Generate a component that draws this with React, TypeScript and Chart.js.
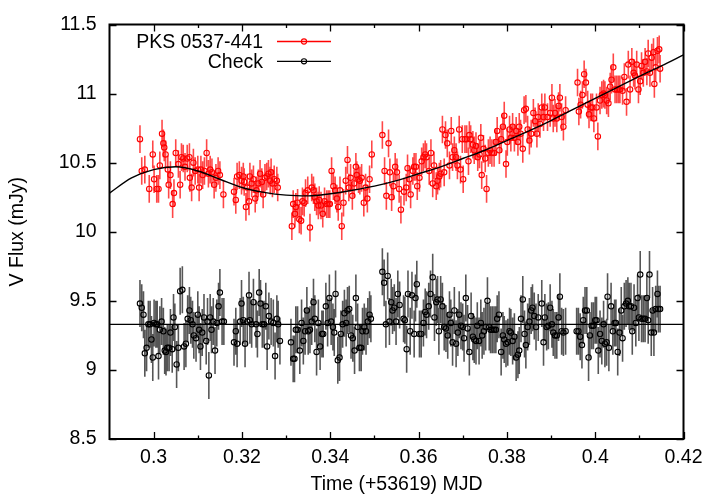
import React, { useEffect, useRef } from "react";
import { Chart, registerables } from "chart.js";

Chart.register(...registerables);

const FONT = '"Liberation Sans", Arial, Helvetica, sans-serif';
const FONT_SIZE = 19.5;

// PKS 0537-441 (V flux, mJy)
const redTime = [
  0.2969, 0.2973, 0.2980, 0.2990, 0.2998, 0.3001, 0.3007, 0.3011, 0.3014, 0.3019, 0.3022, 0.3024, 0.3027, 0.3032, 0.3034,
  0.3038, 0.3043, 0.3046, 0.3050, 0.3056, 0.3060, 0.3063, 0.3067, 0.3071, 0.3076, 0.3081, 0.3082, 0.3086, 0.3090, 0.3094,
  0.3100, 0.3103, 0.3107, 0.3111, 0.3115, 0.3120, 0.3124, 0.3128, 0.3132, 0.3137, 0.3141, 0.3146, 0.3150, 0.3158,
  0.3182, 0.3186, 0.3189, 0.3194, 0.3199, 0.3203, 0.3205, 0.3209, 0.3212, 0.3216, 0.3218, 0.3222, 0.3226, 0.3230, 0.3233,
  0.3237, 0.3241, 0.3245, 0.3248, 0.3252, 0.3256, 0.3260, 0.3264, 0.3266, 0.3269, 0.3273, 0.3279, 0.3281,
  0.3313, 0.3316, 0.3320, 0.3322, 0.3326, 0.3330, 0.3334, 0.3337, 0.3341, 0.3344, 0.3349, 0.3354, 0.3358, 0.3362, 0.3365,
  0.3369, 0.3373, 0.3375, 0.3379, 0.3383, 0.3387, 0.3392, 0.3396, 0.3399, 0.3403, 0.3407, 0.3411, 0.3415, 0.3418, 0.3422,
  0.3426, 0.3430, 0.3435, 0.3439, 0.3442, 0.3446, 0.3450, 0.3454, 0.3458, 0.3460, 0.3464, 0.3467, 0.3471, 0.3476, 0.3480,
  0.3484, 0.3489, 0.3494,
  0.3518, 0.3523, 0.3527, 0.3532, 0.3535, 0.3539, 0.3543, 0.3547, 0.3551, 0.3556, 0.3560,
  0.3567, 0.3572, 0.3575, 0.3579, 0.3582, 0.3587, 0.3590, 0.3594, 0.3597, 0.3602,
  0.3607, 0.3611, 0.3615, 0.3618, 0.3624, 0.3628, 0.3632, 0.3635, 0.3640, 0.3643,
  0.3647, 0.3650, 0.3654, 0.3658, 0.3661, 0.3665, 0.3670, 0.3674, 0.3677, 0.3681,
  0.3685, 0.3688, 0.3692, 0.3695, 0.3699, 0.3701, 0.3705, 0.3709, 0.3713, 0.3715,
  0.3718, 0.3723, 0.3726, 0.3730, 0.3734, 0.3738, 0.3741, 0.3743, 0.3747, 0.3751,
  0.3754, 0.3758, 0.3762, 0.3766, 0.3771, 0.3775, 0.3778, 0.3783, 0.3787, 0.3791,
  0.3794, 0.3798, 0.3801, 0.3806, 0.3809, 0.3813, 0.3817, 0.3821, 0.3825, 0.3828,
  0.3831, 0.3836, 0.3839, 0.3843, 0.3847, 0.3851, 0.3855, 0.3860, 0.3864, 0.3868,
  0.3871, 0.3875,
  0.3879, 0.3883, 0.3886, 0.3892, 0.3898, 0.3902, 0.3905, 0.3909, 0.3913, 0.3917, 0.3920, 0.3924, 0.3928, 0.3933,
  0.3960, 0.3963, 0.3967, 0.3971, 0.3975, 0.3979, 0.3983, 0.3986, 0.3990, 0.3994, 0.3997, 0.4003, 0.4006, 0.4011, 0.4015,
  0.4019, 0.4022, 0.4026, 0.4030, 0.4034, 0.4037, 0.4041, 0.4045, 0.4049, 0.4053, 0.4056, 0.4062, 0.4066, 0.4071, 0.4075,
  0.4079, 0.4083, 0.4087, 0.4090, 0.4094, 0.4098, 0.4102, 0.4105, 0.4109, 0.4113, 0.4117, 0.4120, 0.4124, 0.4128, 0.4132,
  0.4134, 0.4137, 0.4141, 0.4145, 0.4147,
];
const redFlux = [
  10.67, 10.44, 10.45, 10.31, 10.56, 10.38, 10.31, 10.31, 10.48, 10.71, 10.64, 10.61, 10.56, 10.45, 10.34,
  10.41, 10.20, 10.28, 10.57, 10.49, 10.34, 10.54, 10.53, 10.47, 10.53, 10.54, 10.39, 10.32, 10.50, 10.44,
  10.45, 10.32, 10.45, 10.41, 10.44, 10.57, 10.42, 10.45, 10.43, 10.34, 10.39, 10.44, 10.41, 10.27,
  10.29, 10.23, 10.40, 10.41, 10.37, 10.40, 10.36, 10.18, 10.32, 10.22, 10.40, 10.35, 10.38, 10.24, 10.30,
  10.35, 10.42, 10.36, 10.27, 10.39, 10.40, 10.42, 10.37, 10.43, 10.35, 10.38, 10.37, 10.32,
  10.04, 10.20, 10.13, 10.18, 10.21, 10.09, 10.08, 10.22, 10.21, 10.28, 10.30, 10.03, 10.32, 10.30, 10.25,
  10.22, 10.19, 10.23, 10.19, 10.13, 10.22, 10.20, 10.20, 10.20, 10.44, 10.33, 10.30, 10.24, 10.18, 10.30,
  10.04, 10.21, 10.37, 10.52, 10.32, 10.39, 10.26, 10.35, 10.47, 10.41, 10.38, 10.37, 10.39, 10.21, 10.32,
  10.24, 10.38, 10.56,
  10.70, 10.44, 10.26, 10.64, 10.43, 10.25, 10.33, 10.47, 10.43, 10.31, 10.16,
  10.29, 10.32, 10.46, 10.38, 10.27, 10.44, 10.47, 10.47, 10.33, 10.39,
  10.51, 10.54, 10.56, 10.54, 10.44, 10.57, 10.35, 10.48, 10.33, 10.37,
  10.40, 10.42, 10.74, 10.43, 10.70, 10.64, 10.48, 10.73, 10.54, 10.59,
  10.54, 10.48, 10.74, 10.45, 10.67, 10.38, 10.67, 10.67, 10.51, 10.70,
  10.67, 10.63, 10.59, 10.62, 10.54, 10.56, 10.68, 10.41, 10.60, 10.53,
  10.31, 10.57, 10.59, 10.57, 10.57, 10.65, 10.73, 10.59, 10.67, 10.76,
  10.84, 10.49, 10.65, 10.74, 10.68, 10.76, 10.68, 10.73, 10.65, 10.76,
  10.71, 10.60, 10.88, 10.89, 10.74, 10.66, 10.71, 10.86, 10.80, 10.71,
  10.83, 10.78,
  10.90, 10.83, 10.90, 10.83, 10.86, 10.97, 10.82, 10.86, 10.82, 10.91, 10.97, 10.83, 10.76, 10.88,
  11.08, 10.87, 10.92, 10.99, 11.14, 11.08, 10.92, 10.85, 10.90, 10.90, 10.82, 10.90, 10.69, 10.95, 10.99,
  11.00, 10.99, 10.95, 10.93, 11.05, 11.10, 11.19, 11.03, 11.03, 11.03, 11.03, 11.02, 11.12, 10.94, 11.21,
  11.03, 11.23, 11.15, 11.13, 11.21, 11.03, 11.09, 11.20, 11.15, 11.23, 11.16, 11.29, 11.15, 11.26, 11.30,
  11.07, 11.19, 11.31, 11.32, 11.18,
];

// Check star (V flux, mJy)
const checkTime = [
  0.2969, 0.2973, 0.2977, 0.2980, 0.2984, 0.2988, 0.2992, 0.2995, 0.2998, 0.3001, 0.3005, 0.3008, 0.3011, 0.3014, 0.3018,
  0.3022, 0.3025, 0.3028, 0.3031, 0.3035, 0.3038, 0.3042, 0.3045, 0.3048, 0.3052, 0.3056, 0.3060, 0.3065, 0.3069, 0.3073,
  0.3077, 0.3081, 0.3084, 0.3088, 0.3091, 0.3096, 0.3100, 0.3103, 0.3106, 0.3110, 0.3114, 0.3119, 0.3122, 0.3125, 0.3128,
  0.3131, 0.3135, 0.3139, 0.3143, 0.3147, 0.3150, 0.3155, 0.3159,
  0.3182, 0.3186, 0.3189, 0.3196, 0.3199, 0.3203, 0.3207, 0.3212, 0.3216, 0.3218, 0.3222, 0.3226, 0.3232, 0.3235, 0.3239,
  0.3242, 0.3246, 0.3250, 0.3254, 0.3257, 0.3261, 0.3266, 0.3271, 0.3275, 0.3279, 0.3282, 0.3286,
  0.3311, 0.3316, 0.3319, 0.3322, 0.3326, 0.3331, 0.3335, 0.3339, 0.3343, 0.3347, 0.3350, 0.3354, 0.3358, 0.3362, 0.3365,
  0.3369, 0.3373, 0.3377, 0.3381, 0.3384, 0.3390, 0.3394, 0.3398, 0.3402, 0.3406, 0.3409, 0.3412, 0.3417, 0.3421, 0.3424,
  0.3428, 0.3432, 0.3436, 0.3439, 0.3443, 0.3447, 0.3451, 0.3455, 0.3458, 0.3462, 0.3466, 0.3470, 0.3473, 0.3477, 0.3481,
  0.3485, 0.3489, 0.3492,
  0.3518, 0.3522, 0.3526, 0.3530, 0.3534, 0.3538, 0.3541, 0.3545, 0.3549, 0.3553, 0.3557,
  0.3566, 0.3569, 0.3573, 0.3576, 0.3581, 0.3585, 0.3590, 0.3593, 0.3596, 0.3602,
  0.3606, 0.3611, 0.3615, 0.3618, 0.3623, 0.3627, 0.3632, 0.3636, 0.3640, 0.3643,
  0.3646, 0.3650, 0.3654, 0.3658, 0.3662, 0.3666, 0.3670, 0.3673, 0.3677, 0.3681,
  0.3685, 0.3689, 0.3692, 0.3696, 0.3700, 0.3703, 0.3707, 0.3711, 0.3715, 0.3719,
  0.3723, 0.3726, 0.3730, 0.3733, 0.3737, 0.3741, 0.3744, 0.3748, 0.3752, 0.3756,
  0.3760, 0.3763, 0.3767, 0.3771, 0.3775, 0.3778, 0.3782, 0.3787, 0.3791, 0.3794,
  0.3798, 0.3802, 0.3806, 0.3809, 0.3813, 0.3817, 0.3821, 0.3825, 0.3828, 0.3832,
  0.3836, 0.3840, 0.3843, 0.3847, 0.3851, 0.3855, 0.3858, 0.3862, 0.3866, 0.3871,
  0.3879, 0.3883, 0.3886, 0.3890, 0.3894, 0.3898, 0.3902, 0.3905, 0.3909, 0.3913, 0.3917, 0.3920, 0.3924, 0.3928, 0.3933,
  0.3958, 0.3962, 0.3966, 0.3970, 0.3973, 0.3977, 0.3981, 0.3985, 0.3988, 0.3992, 0.3996, 0.4000, 0.4003, 0.4007, 0.4011,
  0.4015, 0.4019, 0.4022, 0.4026, 0.4028, 0.4031, 0.4036, 0.4040, 0.4044, 0.4047, 0.4051, 0.4055, 0.4059, 0.4062, 0.4066,
  0.4070, 0.4074, 0.4077, 0.4081, 0.4084, 0.4088, 0.4092, 0.4096, 0.4099, 0.4102, 0.4105, 0.4109, 0.4113, 0.4117, 0.4120,
  0.4123, 0.4127, 0.4130, 0.4133, 0.4137, 0.4141, 0.4143, 0.4147,
];
const checkFlux = [
  9.48, 9.45, 9.40, 9.12, 9.16, 9.33, 9.33, 9.22, 9.09, 9.34, 9.33, 9.33, 9.10, 9.29, 9.35,
  9.28, 9.14, 9.13, 9.16, 9.16, 9.27, 9.15, 9.38, 9.31, 9.04, 9.16, 9.57, 9.58, 9.17, 9.19,
  9.37, 9.43, 9.36, 9.33, 9.25, 9.23, 9.40, 9.29, 9.17, 9.27, 9.38, 9.21, 9.35, 8.96, 9.38,
  9.29, 9.35, 9.14, 9.34, 9.46, 9.56, 9.35, 9.35,
  9.20, 9.28, 9.19, 9.35, 9.48, 9.36, 9.19, 9.35, 9.54, 9.36, 9.33, 9.49, 9.33, 9.26, 9.56,
  9.48, 9.33, 9.33, 9.46, 9.17, 9.39, 9.35, 9.34, 9.10, 9.37, 9.33, 9.21,
  9.20, 9.08, 9.08, 9.29, 9.29, 9.14, 9.34, 9.21, 9.28, 9.43, 9.28, 9.29, 9.35, 9.49, 9.37,
  9.13, 9.34, 9.17, 9.26, 9.26, 9.46, 9.34, 9.52, 9.35, 9.31, 9.27, 9.55, 9.07, 9.09, 9.26,
  9.33, 9.41, 9.34, 9.43, 9.44, 9.25, 9.23, 9.14, 9.52, 9.31, 9.16, 9.16, 9.28, 9.31, 9.28,
  9.35, 9.40, 9.37,
  9.71, 9.63, 9.33, 9.68, 9.35, 9.49, 9.43, 9.45, 9.35, 9.55, 9.47,
  9.37, 9.36, 9.15, 9.55, 9.28, 9.54, 9.26, 9.52, 9.62, 9.26,
  9.26, 9.34, 9.42, 9.40, 9.46, 9.55, 9.67, 9.38, 9.49, 9.51,
  9.28, 9.51, 9.46, 9.31, 9.30, 9.25, 9.40, 9.34, 9.20, 9.43,
  9.19, 9.27, 9.40, 9.32, 9.31, 9.23, 9.52, 9.30, 9.13, 9.39,
  9.24, 9.22, 9.21, 9.32, 9.21, 9.34, 9.25, 9.28, 9.31, 9.50,
  9.31, 9.29, 9.29, 9.29, 9.29, 9.37, 9.40, 9.13, 9.25, 9.22,
  9.19, 9.20, 9.28, 9.27, 9.21, 9.24, 9.09, 9.11, 9.14, 9.37,
  9.51, 9.26, 9.18, 9.31, 9.35, 9.43, 9.45, 9.39, 9.31, 9.38,
  9.48, 9.20, 9.38, 9.31, 9.32, 9.45, 9.33, 9.27, 9.25, 9.25, 9.38, 9.53, 9.28, 9.27, 9.28,
  9.28, 9.28, 9.24, 9.18, 9.36, 9.43, 9.43, 9.09, 9.25, 9.32, 9.32, 9.36, 9.36, 9.14, 9.26,
  9.21, 9.33, 9.19, 9.20, 9.53, 9.16, 9.46, 9.28, 9.34, 9.34, 9.13, 9.27, 9.43, 9.23, 9.46,
  9.48, 9.50, 9.46, 9.46, 9.28, 9.45, 9.34, 9.52, 9.38, 9.69, 9.37, 9.37, 9.37, 9.52, 9.36,
  9.69, 9.27, 9.43, 9.27, 9.44, 9.55, 9.44, 9.44,
];

// Error bar half-heights (mJy)
const redErr = 0.1;
const checkErr = 0.17;

// Fitted curve through the PKS 0537-441 light curve
const fitTime = [
  0.29, 0.295, 0.30, 0.305, 0.31, 0.315, 0.32, 0.325, 0.33, 0.335, 0.34, 0.345, 0.35, 0.355,
  0.36, 0.365, 0.37, 0.375, 0.38, 0.385, 0.39, 0.395, 0.40, 0.405, 0.41, 0.415, 0.42,
];
const fitFlux = [
  10.28, 10.39, 10.45, 10.47, 10.44, 10.38, 10.32, 10.285, 10.265, 10.26, 10.275, 10.30, 10.33, 10.37,
  10.42, 10.47, 10.53, 10.59, 10.66, 10.73, 10.805, 10.885, 10.965, 11.045, 11.125, 11.20, 11.28,
];

// Mean level of the check star
const levelTime = [0.29, 0.42];
const levelFlux = [9.33, 9.33];

// Axes
const xMin = 0.29;
const xMax = 0.42;
const yMin = 8.5;
const yMax = 11.5;
const xMajorTicks = [0.3, 0.32, 0.34, 0.36, 0.38, 0.4, 0.42];
const xMinorTicks = [0.31, 0.33, 0.35, 0.37, 0.39, 0.41];
const yMajorTicks = [8.5, 9, 9.5, 10, 10.5, 11, 11.5];

const seriesNames = ["PKS 0537-441", "Check"];
const xTitle = "Time (+53619) MJD";
const yTitle = "V Flux (mJy)";

function toPoints(xs: number[], ys: number[]) {
  const n = Math.min(xs.length, ys.length);
  const out: { x: number; y: number }[] = [];
  for (let i = 0; i < n; i++) out.push({ x: xs[i], y: ys[i] });
  return out;
}

const errorBarPlugin = {
  id: "errorBars",
  beforeDatasetsDraw(chart: any) {
    const { ctx, chartArea, scales } = chart;
    const xs = scales.x;
    const ys = scales.y;
    ctx.save();
    ctx.beginPath();
    ctx.rect(chartArea.left, chartArea.top, chartArea.right - chartArea.left, chartArea.bottom - chartArea.top);
    ctx.clip();
    chart.data.datasets.forEach((ds: any) => {
      if (!ds.errBar) return;
      ctx.strokeStyle = ds.errColor;
      ctx.lineWidth = 1.6;
      ctx.beginPath();
      ds.data.forEach((p: any) => {
        const px = xs.getPixelForValue(p.x);
        ctx.moveTo(px, ys.getPixelForValue(p.y - ds.errBar));
        ctx.lineTo(px, ys.getPixelForValue(p.y + ds.errBar));
      });
      ctx.stroke();
    });
    ctx.restore();
  },
};

const framePlugin = {
  id: "frame",
  afterDraw(chart: any) {
    const { ctx, chartArea, scales } = chart;
    const { left, right, top, bottom } = chartArea;
    const xs = scales.x;
    const ys = scales.y;
    ctx.save();
    ctx.strokeStyle = "#000";
    ctx.lineWidth = 1.3;
    ctx.beginPath();
    const major = 7;
    const minor = 3.5;
    xMajorTicks.forEach((v) => {
      const px = Math.round(xs.getPixelForValue(v)) + 0.5;
      ctx.moveTo(px, bottom);
      ctx.lineTo(px, bottom - major);
      ctx.moveTo(px, top);
      ctx.lineTo(px, top + major);
    });
    xMinorTicks.forEach((v) => {
      const px = Math.round(xs.getPixelForValue(v)) + 0.5;
      ctx.moveTo(px, bottom);
      ctx.lineTo(px, bottom - minor);
      ctx.moveTo(px, top);
      ctx.lineTo(px, top + minor);
    });
    yMajorTicks.forEach((v) => {
      const py = Math.round(ys.getPixelForValue(v)) + 0.5;
      ctx.moveTo(left, py);
      ctx.lineTo(left + major, py);
      ctx.moveTo(right, py);
      ctx.lineTo(right - major, py);
    });
    ctx.stroke();
    ctx.lineWidth = 2;
    ctx.strokeRect(left, top, right - left, bottom - top);

    // legend (gnuplot style: label, then sample line with marker)
    const colors = ["#ff0000", "#000000"];
    const rows = [top + 17, top + 36.8];
    ctx.font = `${FONT_SIZE}px ${FONT}`;
    ctx.textAlign = "right";
    ctx.textBaseline = "middle";
    seriesNames.forEach((name, i) => {
      const y = rows[i];
      ctx.fillStyle = "#000";
      ctx.fillText(name, left + 153.5, y + 1);
      ctx.strokeStyle = colors[i];
      ctx.lineWidth = 1.3;
      ctx.beginPath();
      ctx.moveTo(left + 167.5, y);
      ctx.lineTo(left + 221.5, y);
      ctx.stroke();
      ctx.beginPath();
      ctx.lineWidth = 1.1;
      ctx.arc(left + 194.5, y, 2.6, 0, Math.PI * 2);
      ctx.stroke();
    });
    ctx.restore();
  },
};

export default function App() {
  const canvasRef = useRef<HTMLCanvasElement | null>(null);

  useEffect(() => {
    const canvas = canvasRef.current;
    if (!canvas) return;
    const chart = new Chart(canvas, {
      type: "scatter",
      data: {
        datasets: [
          {
            label: "fit",
            data: toPoints(fitTime, fitFlux),
            showLine: true,
            borderColor: "#000",
            borderWidth: 1.4,
            pointRadius: 0,
            cubicInterpolationMode: "monotone",
            fill: false,
          } as any,
          {
            label: "level",
            data: toPoints(levelTime, levelFlux),
            showLine: true,
            borderColor: "#000",
            borderWidth: 1.3,
            pointRadius: 0,
            fill: false,
          } as any,
          {
            label: seriesNames[0],
            data: toPoints(redTime, redFlux),
            showLine: false,
            pointStyle: "circle",
            pointRadius: 2.7,
            pointBorderWidth: 1.1,
            borderColor: "#ff0000",
            backgroundColor: "rgba(0,0,0,0)",
            errBar: redErr,
            errColor: "rgba(255,0,0,0.72)",
          } as any,
          {
            label: seriesNames[1],
            data: toPoints(checkTime, checkFlux),
            showLine: false,
            pointStyle: "circle",
            pointRadius: 2.7,
            pointBorderWidth: 1.1,
            borderColor: "#000",
            backgroundColor: "rgba(0,0,0,0)",
            errBar: checkErr,
            errColor: "rgba(30,30,30,0.75)",
          } as any,
        ],
      },
      options: {
        animation: false,
        responsive: false,
        devicePixelRatio: 1,
        layout: { padding: { top: 23.4, right: 34.5, left: 0, bottom: 0 } },
        plugins: {
          legend: { display: false },
          tooltip: { enabled: false },
        },
        scales: {
          x: {
            type: "linear",
            min: xMin,
            max: xMax,
            grid: { display: false, drawTicks: false },
            border: { display: false },
            afterBuildTicks: (scale: any) => {
              scale.ticks = xMajorTicks.map((v) => ({ value: v }));
            },
            afterFit: (scale: any) => {
              scale.height = 64;
            },
            ticks: {
              padding: 7.3,
              color: "#000",
              maxRotation: 0,
              autoSkip: false,
              font: { family: FONT, size: FONT_SIZE },
              callback: (v: any) => String(Number(Number(v).toFixed(2))),
            },
            title: {
              display: true,
              text: xTitle,
              color: "#000",
              font: { family: FONT, size: FONT_SIZE },
              padding: { top: 0, bottom: 6.3 },
            },
          },
          y: {
            type: "linear",
            min: yMin,
            max: yMax,
            grid: { display: false, drawTicks: false },
            border: { display: false },
            afterBuildTicks: (scale: any) => {
              scale.ticks = yMajorTicks.map((v) => ({ value: v }));
            },
            afterFit: (scale: any) => {
              scale.width = 109.5;
            },
            ticks: {
              padding: 12.8,
              color: "#000",
              autoSkip: false,
              font: { family: FONT, size: FONT_SIZE },
              callback: (v: any) => String(Number(Number(v).toFixed(2))),
            },
            title: {
              display: true,
              text: yTitle,
              color: "#000",
              font: { family: FONT, size: FONT_SIZE },
              padding: { top: 6.3, bottom: 0 },
            },
          },
        },
      } as any,
      plugins: [errorBarPlugin, framePlugin],
    });
    return () => chart.destroy();
  }, []);

  return (
    <div style={{ position: "absolute", left: 0, top: 0, width: 718, height: 503, background: "#fff" }}>
      <canvas ref={canvasRef} width={718} height={503} style={{ display: "block" }} />
    </div>
  );
}
